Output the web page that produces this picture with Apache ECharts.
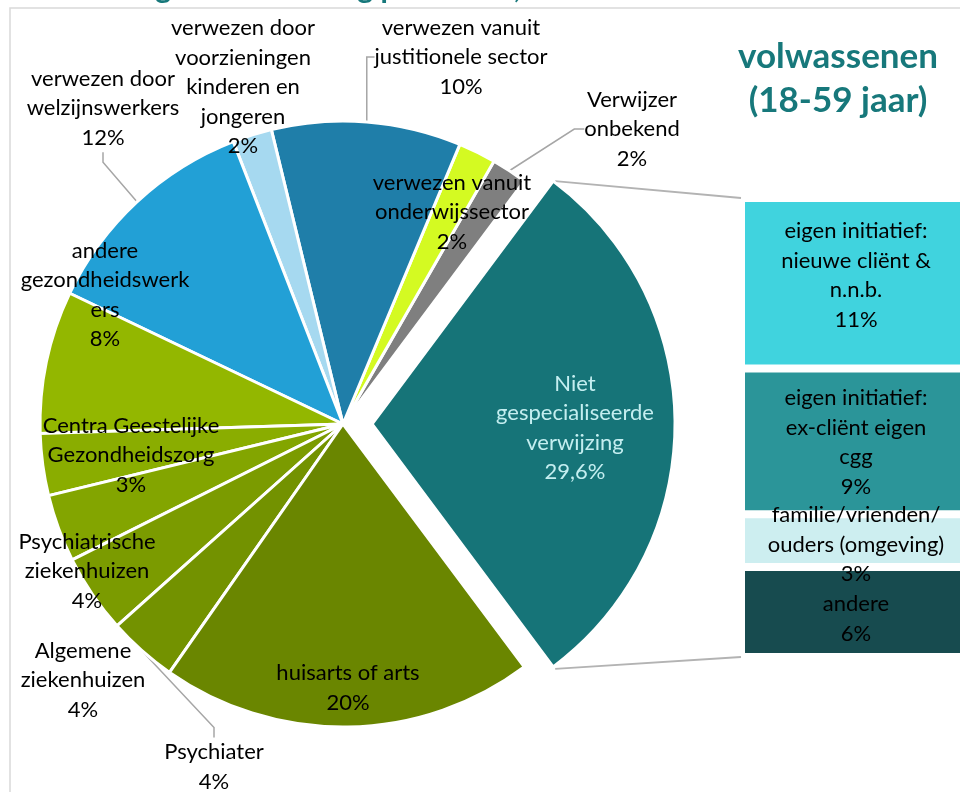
<!DOCTYPE html>
<html>
<head>
<meta charset="utf-8">
<script src="https://cdn.jsdelivr.net/npm/echarts@6/dist/echarts.min.js"></script>
<style>
html,body{margin:0;padding:0;background:#fff;}
#chart{width:960px;height:792px;}
</style>
</head>
<body>
<div id="chart"></div>
<script>
// ---------- DATA ----------
const pieCategories = [
  'Niet\ngespecialiseerde\nverwijzing',
  'Verwijzer\nonbekend',
  'verwezen vanuit\nonderwijssector',
  'verwezen vanuit\njustitionele sector',
  'verwezen door\nvoorzieningen\nkinderen en\njongeren',
  'verwezen door\nwelzijnswerkers',
  'andere\ngezondheidswerk\ners',
  'Centra Geestelijke\nGezondheidszorg',
  'Psychiatrische\nziekenhuizen',
  'Algemene\nziekenhuizen',
  'Psychiater',
  'huisarts of arts'
];
const pieValues = [29.6, 1.9, 2.0, 10.1, 2.1, 12.0, 7.6, 3.3, 3.6, 4.2, 3.7, 19.9];

const barCategories = [
  'eigen initiatief:\nnieuwe cliënt &\nn.n.b.',
  'eigen initiatief:\nex-cliënt eigen\ncgg',
  'familie/vrienden/\nouders (omgeving)',
  'andere'
];
const barValues = [11.0, 9.4, 3.4, 5.8];

const titleLines = ['volwassenen', '(18-59 jaar)'];
const cutTitle = 'Aanmelding in behandeling per sector,';

// ---------- STYLE / LAYOUT ----------
const pieColors = ['#167478', '#7f7f7f', '#d4fa22', '#1f7ea9', '#a6d9f0', '#22a0d6',
                   '#93b700', '#8aad00', '#83a500', '#7b9b00', '#739200', '#6a8600'];
const barColors = ['#40d3de', '#2b9599', '#cdeef0', '#174b4f'];
const barLabelShift = [-8, 1, 4, 7];
const labelMode = ['inside', 'outside', 'inside', 'outside', 'outside', 'outside',
                   'inside', 'inside', 'outside', 'outside', 'outside', 'inside'];
const labelLineOn = [false, true, false, true, false, true, false, false, false, false, true, false];
// label centres (manual label placement as in the source chart)
const labelPlace = [[575, 428], [632, 129], [452, 212], [461, 57], [243, 87], [103, 108],
                    [105, 295], [131, 455], [87, 571], [83, 680], [214, 767], [348, 688]];
const explodedIndex = 0;
const pieCenter = [343, 424];
const pieRadius = 303;
const explodeOffset = 29;
const FONT = 'Lato, "Open Sans", sans-serif';

const pieTotal = pieValues.reduce((a, b) => a + b, 0);
const explodedAngle = pieValues[explodedIndex] / pieTotal * 360;
const barTotal = barValues.reduce((a, b) => a + b, 0);

function pctText(v, precise) {
  return precise ? v.toFixed(1).replace('.', ',') + '%' : Math.round(v) + '%';
}

const chart = echarts.init(document.getElementById('chart'), null, {renderer: 'canvas'});

const barSeries = [];
for (let i = barValues.length - 1; i >= 0; i--) {
  barSeries.push({
    type: 'bar',
    name: barCategories[i],
    stack: 'other',
    barWidth: '100%',
    data: [barValues[i]],
    itemStyle: {color: barColors[i], borderColor: '#fff', borderWidth: 4},
    label: {
      show: true, position: 'inside', color: '#000',
      offset: [0, barLabelShift[i]],
      fontFamily: FONT, fontSize: 22, lineHeight: 29.5,
      formatter: barCategories[i] + '\n' + pctText(barValues[i], false)
    },
    emphasis: {disabled: true},
    animation: false
  });
}

const commonLabel = {fontFamily: FONT, fontSize: 22, lineHeight: 29.5, align: 'center'};
const placeLabel = (idxMap) => (p) => {
  const k = idxMap(p.dataIndex);
  return {x: labelPlace[k][0], y: labelPlace[k][1], align: 'center', verticalAlign: 'middle', hideOverlap: false};
};

// main pie: every slice except the exploded one (kept as an invisible gap)
const mainPieData = pieCategories.map((n, i) => {
  if (i === explodedIndex) {
    return {name: n, value: pieValues[i],
            itemStyle: {color: 'rgba(0,0,0,0)', borderWidth: 0},
            label: {show: false}, labelLine: {show: false}};
  }
  return {
    name: n, value: pieValues[i],
    itemStyle: {color: pieColors[i]},
    label: {position: labelMode[i], color: '#000'},
    labelLine: {show: labelLineOn[i]}
  };
});

// exploded pie: the exploded slice, shifted out; the rest invisible
const explodedPieData = [
  {name: pieCategories[explodedIndex], value: pieValues[explodedIndex],
   itemStyle: {color: pieColors[explodedIndex]},
   label: {show: true, position: labelMode[explodedIndex], color: '#c4eef0'},
   labelLine: {show: false}},
  {name: 'rest', value: pieTotal - pieValues[explodedIndex],
   itemStyle: {color: 'rgba(0,0,0,0)', borderWidth: 0},
   label: {show: false}, labelLine: {show: false}}
];

const option = {
  animation: false,
  grid: {left: 741, top: 198, width: 230, bottom: 135, containLabel: false, outerBoundsMode: 'none'},
  xAxis: {type: 'category', data: ['other'], show: false},
  yAxis: {type: 'value', min: 0, max: barTotal, show: false},
  series: [
    {
      type: 'pie',
      center: pieCenter,
      radius: pieRadius,
      startAngle: -explodedAngle / 2,
      clockwise: false,
      avoidLabelOverlap: false,
      animation: false,
      silent: true,
      emphasis: {disabled: true},
      itemStyle: {borderColor: '#fff', borderWidth: 3},
      label: Object.assign({}, commonLabel, {
        formatter: (p) => p.name + '\n' + pctText(p.value, false)
      }),
      labelLine: {length: 8, length2: 10, smooth: false, lineStyle: {color: '#a6a6a6', width: 1.5}},
      labelLayout: placeLabel((i) => i),
      data: mainPieData
    },
    {
      type: 'pie',
      center: [pieCenter[0] + explodeOffset, pieCenter[1]],
      radius: pieRadius,
      startAngle: -explodedAngle / 2,
      clockwise: false,
      avoidLabelOverlap: false,
      animation: false,
      silent: true,
      emphasis: {disabled: true},
      itemStyle: {borderColor: '#fff', borderWidth: 3},
      label: Object.assign({}, commonLabel, {
        formatter: (p) => p.name + '\n' + pctText(p.value, true)
      }),
      labelLayout: placeLabel(() => explodedIndex),
      data: explodedPieData
    }
  ].concat(barSeries),
  graphic: []
};
chart.setOption(option);

// connector lines from the exploded slice to the bar (derived from chart geometry)
const a = explodedAngle / 2 * Math.PI / 180;
const cx = pieCenter[0] + explodeOffset, cy = pieCenter[1];
const topCorner = [cx + pieRadius * Math.cos(a), cy - pieRadius * Math.sin(a)];
const botCorner = [cx + pieRadius * Math.cos(a), cy + pieRadius * Math.sin(a)];
const barTop = chart.convertToPixel({gridIndex: 0}, ['other', barTotal]);
const barBot = chart.convertToPixel({gridIndex: 0}, ['other', 0]);
const gridRect = chart.getModel().getComponent('grid', 0).coordinateSystem.getRect();
const barLeft = gridRect.x;

chart.setOption({
  graphic: [
    {type: 'rect', z: -10, silent: true,
     shape: {x: 10, y: 8, width: 980, height: 800},
     style: {fill: 'none', stroke: '#d9d9d9', lineWidth: 1.5}},
    {type: 'text', silent: true, x: 12, y: -12,
     style: {text: cutTitle, fill: '#17787b', font: 'bold 30px ' + FONT, align: 'left', verticalAlign: 'middle'}},
    {type: 'text', silent: true, x: 838, y: 79,
     style: {text: titleLines.join('\n'), fill: '#17787b', font: 'bold 35px ' + FONT,
             lineHeight: 44, align: 'center', verticalAlign: 'middle'}},
    {type: 'line', silent: true,
     shape: {x1: topCorner[0] + 2, y1: topCorner[1], x2: barLeft, y2: barTop[1]},
     style: {stroke: '#b3b3b3', lineWidth: 2}},
    {type: 'line', silent: true,
     shape: {x1: botCorner[0] + 2, y1: botCorner[1] + 2, x2: barLeft, y2: barBot[1]},
     style: {stroke: '#b3b3b3', lineWidth: 2}}
  ]
});
</script>
</body>
</html>
